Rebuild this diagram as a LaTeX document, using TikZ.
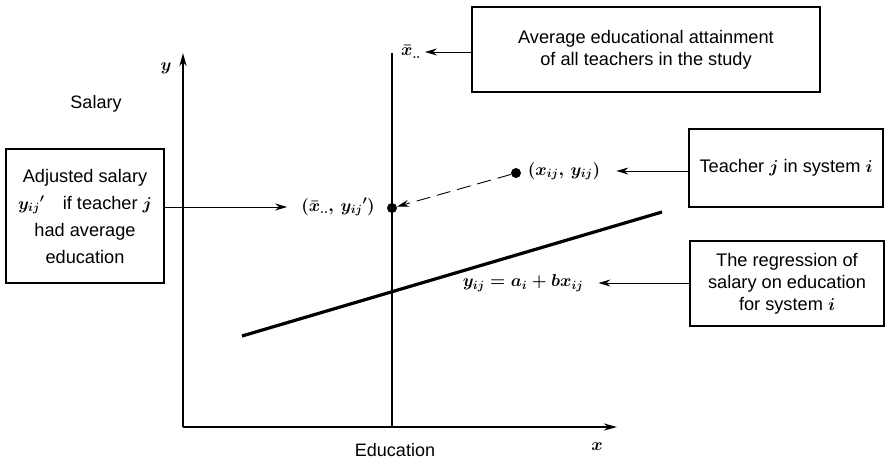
\documentclass[tikz,border=0pt]{standalone}
\usepackage{amsmath}
\usepackage{fontspec}
\setmainfont{Liberation Sans}
\usepackage{xcolor}
\usepackage{tikz}
\usetikzlibrary{arrows.meta,positioning}

\begin{document}
\begin{tikzpicture}[x=1pt,y=-1pt,
    box/.style={draw,line width=1.4pt,align=center,inner sep=0pt,font=\fontsize{18.2}{22}\selectfont},
    lab/.style={inner sep=0pt,font=\fontsize{18}{20}\selectfont},
    arr/.style={line width=0.9pt,-{Stealth[length=12pt,width=7pt,inset=4pt]}},
    axis/.style={line width=2.2pt},
    dot/.style={circle,fill,inner sep=0pt,minimum size=10pt}]
    \useasboundingbox (0,0) rectangle (885,463);
    % axes
    \coordinate (o) at (183,427);
    \coordinate (ytop) at (183,53);
    \coordinate (xend) at (617,427);
    \draw[axis,-{Stealth[length=13pt,width=7pt,inset=4pt]}] (o) -- (ytop);
    \draw[axis,-{Stealth[length=13pt,width=7pt,inset=4pt]}] (o) -- (xend);
    \node[lab] (ylab) at (166,68) {$\boldsymbol{y}$};
    \node[lab] (xlab) at (597,447) {$\boldsymbol{x}$};
    \node[lab] (salary) at (96,104) {Salary};
    \node[lab] (educ) at (395,450) {Education};

    % mean education
    \coordinate (mtop) at (392,53);
    \coordinate (mbot) at (392,427);
    \draw[axis] (mbot) -- (mtop);
    \node[lab] (xbar) at (411,52) {$\boldsymbol{\bar{x}_{..}}$};

    % regression line
    \draw[line width=3.2pt] (242,336) -- (662,212);
    \node[lab] (eqlab) at (523,283) {$\boldsymbol{y_{ij} = a_i + bx_{ij}}$};

    % points
    \node[dot] (dotbar) at (392,208) {};
    \node[dot] (dotij) at (516,173) {};
    \node[lab] (adjlab) at (338,207) {$\boldsymbol{(\bar{x}_{..},\, {y_{ij}}')}$};
    \node[lab] (xijlab) at (564,171) {$\boldsymbol{(x_{ij},\, y_{ij})}$};
    \draw[arr,dash pattern=on 14pt off 7pt] (dotij) -- (dotbar);

    % boxes
    \node[box,minimum width=158,minimum height=134,font=\fontsize{18.2}{27}\selectfont] (adjbox) at (85,216)
        {Adjusted salary\\$\boldsymbol{{y_{ij}}'}$\quad if teacher $\boldsymbol{j}$\\had average\\education};
    \node[box,minimum width=348,minimum height=85] (avgbox) at (646,49.5)
        {Average educational attainment\\of all teachers in the study};
    \node[box,minimum width=194,minimum height=78] (teachbox) at (786,168)
        {Teacher $\boldsymbol{j}$ in system $\boldsymbol{i}$};
    \node[box,minimum width=194,minimum height=85] (regbox) at (787,283.5)
        {The regression of\\salary on education\\for system $\boldsymbol{i}$};

    % arrows from boxes
    \draw[arr,shorten >=14pt] (adjbox.east |- adjlab) -- (adjlab.west);
    \draw[arr,shorten >=4pt] (avgbox.west |- xbar) -- (xbar.east);
    \draw[arr,shorten >=16pt] (teachbox.west |- xijlab) -- (xijlab.east);
    \draw[arr,shorten >=15pt] (regbox.west |- eqlab) -- (eqlab.east);
\end{tikzpicture}
\end{document}
